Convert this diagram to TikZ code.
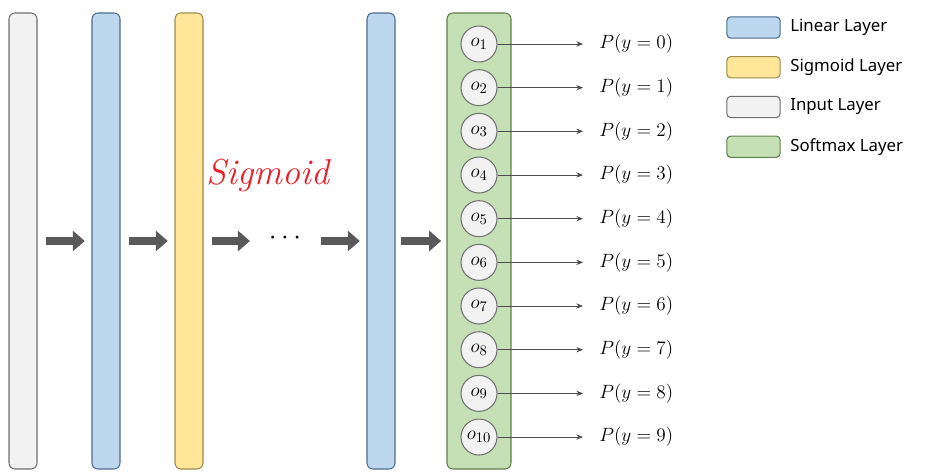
\documentclass[tikz,border=0pt]{standalone}
\usepackage{fontspec}
\setsansfont{Noto Sans}
\usetikzlibrary{arrows.meta,positioning}
\definecolor{inputfill}{HTML}{F2F2F2}
\definecolor{inputdraw}{HTML}{6E6E6E}
\definecolor{linfill}{HTML}{BDD7EE}
\definecolor{lindraw}{HTML}{4A6D8F}
\definecolor{sigfill}{HTML}{FFE699}
\definecolor{sigdraw}{HTML}{9C8A4A}
\definecolor{softfill}{HTML}{C5E0B4}
\definecolor{softdraw}{HTML}{5E7F4A}
\definecolor{arrowgrey}{HTML}{595959}
\definecolor{handred}{HTML}{E8202A}
\tikzset{
  layer/.style={draw,rounded corners=4.5pt,minimum width=21pt,minimum height=342pt,inner sep=0pt,line width=0.8pt},
  blockarrow/.style={draw=arrowgrey,line width=6pt,-{Triangle[length=9pt,width=15pt]},shorten <=6pt,shorten >=5pt},
  unit/.style={circle,draw=black!55,fill=inputfill,line width=0.8pt,minimum size=27pt,inner sep=0pt,font=\fontsize{15}{17}\selectfont},
  prob/.style={anchor=west,inner sep=0pt,font=\fontsize{15}{17}\selectfont},
  probarrow/.style={draw=black!70,line width=0.5pt,-{Stealth[length=5pt,width=4pt]},shorten >=12pt},
  legbox/.style={draw,rounded corners=3pt,minimum width=40pt,minimum height=16pt,inner sep=0pt,line width=0.8pt},
  legtext/.style={font=\sffamily\fontsize{12.6}{14}\selectfont,inner sep=0pt}
}
\begin{document}
\begin{tikzpicture}[x=0.75pt,y=-0.75pt]
\useasboundingbox (0,0) rectangle (928,475);
\node[layer,fill=inputfill,draw=inputdraw] (in) at (23,241) {};
\node[layer,fill=linfill,draw=lindraw] (lin1) at (106,241) {};
\node[layer,fill=sigfill,draw=sigdraw] (sig) at (189,241) {};
\node[inner sep=0pt,font=\fontsize{20}{22}\selectfont] (dots) at (285,238) {$\cdots$};
\node[layer,fill=linfill,draw=lindraw] (lin2) at (381,241) {};
\node[layer,minimum width=48pt,fill=softfill,draw=softdraw] (soft) at (479,241) {};
\draw[blockarrow] (in) -- (lin1);
\draw[blockarrow] (lin1) -- (sig);
\draw[blockarrow,shorten >=14pt] (sig) -- (dots.west |- sig);
\draw[blockarrow,shorten <=15pt] (dots.east |- lin2) -- (lin2);
\draw[blockarrow,shorten <=4pt,shorten >=4pt] (lin2) -- (soft);
\foreach \i [evaluate=\i as \yy using 44+(\i-1)*43.67, evaluate=\i as \k using int(\i-1)] in {1,...,10} {
  \node[unit] (o\i) at (479,\yy) {$o_{\i}$};
  \node[prob] (p\i) at (599,\yy) {$P(y=\k)$};
  \draw[probarrow] (o\i) -- (p\i);
}
\node[text=handred,font=\itshape\fontsize{27}{30}\selectfont] (hand) at (268,175) {Sigmoid};
\node[legbox,fill=linfill,draw=lindraw] (leglin) at (753.5,27.5) {};
\node[legbox,fill=sigfill,draw=sigdraw,below=13pt of leglin] (legsig) {};
\node[legbox,fill=inputfill,draw=inputdraw,below=13pt of legsig] (legin) {};
\node[legbox,fill=softfill,draw=softdraw,below=13pt of legin] (legsoft) {};
\node[legtext,right=7pt of leglin] {Linear Layer};
\node[legtext,right=7pt of legsig] {Sigmoid Layer};
\node[legtext,right=7pt of legin] {Input Layer};
\node[legtext,right=7pt of legsoft] {Softmax Layer};
\end{tikzpicture}
\end{document}
